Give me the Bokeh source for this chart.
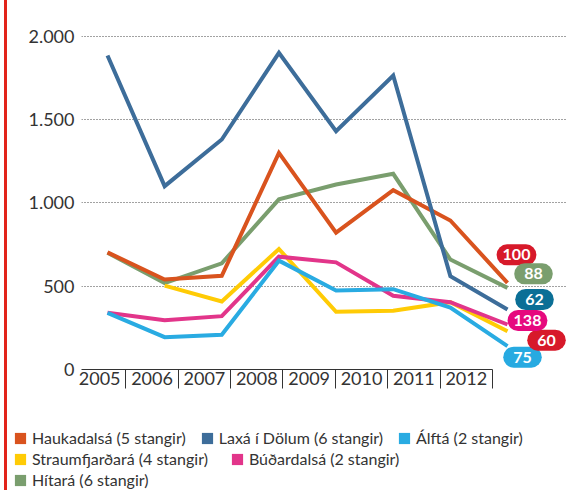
from bokeh.plotting import figure
from bokeh.models import (Range1d, LinearAxis, FixedTicker, Legend, LegendItem,
                          Label, Div, ColumnDataSource)
from bokeh.layouts import row, column
from bokeh.embed import file_html
from bokeh.resources import INLINE

NaN = float("nan")

# ---- data -------------------------------------------------------------
years = [2005, 2006, 2007, 2008, 2009, 2010, 2011, 2012]
year_labels = ["2005", "2006", "2007", "2008", "2009", "2010", "2011", "2012"]

haukadalsa = [703, 540, 562, 1300, 821, 1076, 894, 520]
laxa = [1884, 1100, 1380, 1900, 1430, 1764, 560, 360]
alfta = [340, 194, 208, 653, 474, 482, 372, 140]
straumfjardara = [NaN, 503, 408, 723, 346, 352, 404, 230]
budardalsa = [340, 296, 320, 677, 643, 442, 404, 270]
hitara = [701, 518, 637, 1021, 1110, 1174, 660, 490]

names = ["Haukadalsá (5 stangir)", "Laxá í Dölum (6 stangir)", "Álftá (2 stangir)",
         "Straumfjarðará (4 stangir)", "Búðardalsá (2 stangir)", "Hítará (6 stangir)"]
colors = ["#d9531e", "#3d6d9a", "#29abe2", "#ffcb05", "#e2358a", "#7a9e6e"]
series = [haukadalsa, laxa, alfta, straumfjardara, budardalsa, hitara]

# bubble labels at the end of each series (same order as series)
bubble_values = [100, 62, 75, 60, 138, 88]
bubble_colors = ["#d7192a", "#0b6f96", "#27aae1", "#d7192a", "#e6097e", "#7a9e6e"]

y_ticks = [0, 500, 1000, 1500, 2000]
y_tick_labels = ["0", "500", "1.000", "1.500", "2.000"]

FONT = "Lato"
TXT = "#333333"

# ---- main figure ------------------------------------------------------
p = figure(width=561, height=427,
           x_range=Range1d(2004.545, 2013.050), y_range=Range1d(0, 2094),
           output_backend="svg", toolbar_location=None,
           x_axis_location=None,
           min_border_left=74, min_border_right=1,
           min_border_top=20, min_border_bottom=58)
p.outline_line_color = None
p.xgrid.grid_line_color = None

# axis with one band per year
p.extra_x_ranges = {"bands": Range1d(2004.653, 2013.932)}
band_edges = [y - 0.5 for y in years] + [years[-1] + 0.5]
xaxis = LinearAxis(x_range_name="bands",
                   ticker=FixedTicker(ticks=years, minor_ticks=band_edges),
                   bounds=(band_edges[0], band_edges[-1]))
xaxis.major_label_overrides = {y: l for y, l in zip(years, year_labels)}
xaxis.major_tick_out = 0
xaxis.major_tick_in = 0
xaxis.minor_tick_out = 0
xaxis.minor_tick_in = -19
xaxis.minor_tick_line_color = TXT
xaxis.axis_line_color = TXT
xaxis.major_label_standoff = 2
xaxis.major_label_text_font = FONT
xaxis.major_label_text_font_size = "18px"
xaxis.major_label_text_color = TXT
p.add_layout(xaxis, "below")

yaxis = p.yaxis[0]
yaxis.ticker = FixedTicker(ticks=y_ticks)
yaxis.major_label_overrides = {t: l for t, l in zip(y_ticks, y_tick_labels)}
yaxis.axis_line_color = None
yaxis.major_tick_line_color = None
yaxis.major_tick_out = 0
yaxis.major_tick_in = 0
yaxis.minor_tick_line_color = None
yaxis.major_label_standoff = 7
yaxis.major_label_text_font = FONT
yaxis.major_label_text_font_size = "18px"
yaxis.major_label_text_color = TXT

p.ygrid.ticker = FixedTicker(ticks=y_ticks)
p.ygrid.grid_line_color = "#444444"
p.ygrid.grid_line_dash = "1 2"
p.ygrid.grid_line_width = 1

draw_order = [5, 0, 1, 3, 4, 2]
for i in draw_order:
    src = ColumnDataSource(dict(x=years, y=series[i]))
    p.line("x", "y", source=src, line_color=colors[i], line_width=4,
           line_join="miter")

bubble_offsets = [(9, 28), (27, 10), (15, -11), (39, -9), (20, 4), (26, 14)]
for i in range(len(series)):
    dx, dy = bubble_offsets[i]
    txt = str(bubble_values[i])
    hp = int(round((36 - 8 * len(txt)) / 2))
    p.add_layout(Label(x=years[-1], y=series[i][-1], x_offset=dx, y_offset=dy,
                       text=txt, text_align="center",
                       text_baseline="middle", text_color="white",
                       text_font=FONT, text_font_style="bold",
                       text_font_size="16px",
                       background_fill_color=bubble_colors[i],
                       border_radius=11,
                       padding=dict(left=hp, right=hp, top=5, bottom=5)))

# ---- legend figure ----------------------------------------------------
q = figure(width=561, height=63, x_range=Range1d(0, 1), y_range=Range1d(0, 1),
           output_backend="svg", toolbar_location=None,
           x_axis_location=None, y_axis_location=None,
           min_border_left=0, min_border_right=0, min_border_top=0,
           min_border_bottom=0)
q.frame_align = False
q.outline_line_color = None
q.xgrid.grid_line_color = None
q.ygrid.grid_line_color = None

# legend swatches (their data lie outside this panel's ranges)
swatches = []
for i in range(len(series)):
    r = q.quad(left=years, right=years, top=series[i], bottom=series[i],
               fill_color=colors[i], line_color=None)
    swatches.append(r)

legend_rows = [[0, 1, 2], [3, 4], [5]]
row_offsets = [42, 21, 0]
row_spacing = [14, 22, 14]
for items, vy, sp in zip(legend_rows, row_offsets, row_spacing):
    lg = Legend(items=[LegendItem(label=names[i], renderers=[swatches[i]]) for i in items],
                orientation="horizontal", location=(6, vy),
                glyph_width=14, glyph_height=14, label_standoff=5, spacing=sp,
                padding=0, margin=0, label_height=21,
                label_text_font=FONT, label_text_font_size="16px",
                label_text_color=TXT,
                background_fill_alpha=0, border_line_color=None)
    q.add_layout(lg, "center")

redline = Div(text="", width=3, height=490, margin=(0, 0, 0, 4),
              styles={"background-color": "#e2231a"})

layout = row(redline, column(p, q, spacing=0), spacing=0)

open("out.html", "w").write(file_html(layout, INLINE))
